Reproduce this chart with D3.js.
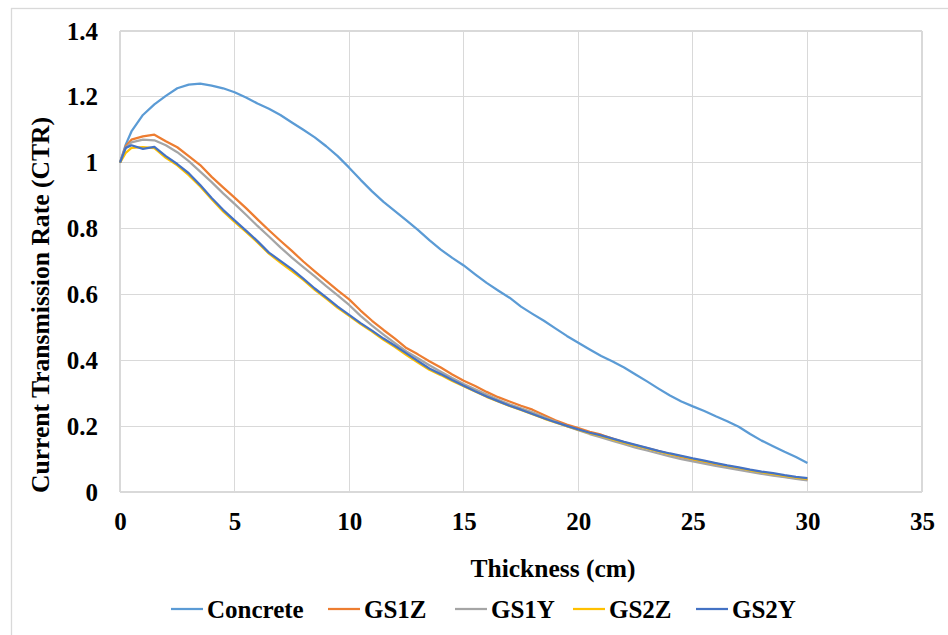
<!DOCTYPE html>
<html>
<head>
<meta charset="utf-8">
<script src="https://cdn.jsdelivr.net/npm/d3@7"></script>
<style>
  html, body { margin: 0; padding: 0; background: #fff; }
</style>
</head>
<body>
<svg id="chart" width="948" height="635"></svg>
<script>
// Thickness (cm) sample positions shared by all series
const thickness = [0, 0.25, 0.5, 1, 1.5, 2, 2.5, 3, 3.5, 4, 4.5, 5, 5.5, 6, 6.5, 7, 7.5, 8, 8.5, 9, 9.5,
  10, 10.5, 11, 11.5, 12, 12.5, 13, 13.5, 14, 14.5, 15, 15.5, 16, 16.5, 17, 17.5, 18, 18.5, 19, 19.5,
  20, 20.5, 21, 21.5, 22, 22.5, 23, 23.5, 24, 24.5, 25, 25.5, 26, 26.5, 27, 27.5, 28, 28.5, 29, 29.5, 30];

const concrete = [1.000, 1.055, 1.095, 1.145, 1.177, 1.203, 1.226, 1.237, 1.240, 1.234, 1.226, 1.214, 1.198, 1.180, 1.164, 1.145, 1.122, 1.100, 1.077, 1.050, 1.020,
  0.985, 0.948, 0.913, 0.881, 0.853, 0.825, 0.796, 0.765, 0.736, 0.711, 0.688, 0.661, 0.635, 0.612, 0.590, 0.563, 0.541, 0.520, 0.497, 0.474,
  0.453, 0.433, 0.413, 0.396, 0.378, 0.357, 0.336, 0.314, 0.293, 0.275, 0.260, 0.246, 0.230, 0.215, 0.198, 0.176, 0.156, 0.139, 0.122, 0.106, 0.088];

const gs1z = [1.000, 1.050, 1.070, 1.080, 1.085, 1.065, 1.047, 1.020, 0.993, 0.957, 0.925, 0.894, 0.862, 0.828, 0.795, 0.763, 0.732, 0.700, 0.670, 0.641, 0.612,
  0.585, 0.551, 0.520, 0.492, 0.466, 0.437, 0.418, 0.397, 0.378, 0.357, 0.338, 0.322, 0.304, 0.288, 0.275, 0.262, 0.250, 0.234, 0.218, 0.205,
  0.194, 0.183, 0.174, 0.162, 0.151, 0.142, 0.133, 0.124, 0.115, 0.106, 0.098, 0.091, 0.084, 0.077, 0.071, 0.065, 0.059, 0.053, 0.047, 0.042, 0.037];

const gs1y = [1.000, 1.045, 1.062, 1.070, 1.068, 1.053, 1.032, 1.005, 0.973, 0.941, 0.907, 0.875, 0.842, 0.808, 0.776, 0.743, 0.712, 0.683, 0.655, 0.625, 0.597,
  0.568, 0.535, 0.505, 0.478, 0.452, 0.427, 0.406, 0.385, 0.365, 0.346, 0.328, 0.312, 0.296, 0.280, 0.266, 0.254, 0.242, 0.228, 0.214, 0.200,
  0.188, 0.176, 0.166, 0.155, 0.145, 0.135, 0.126, 0.117, 0.108, 0.100, 0.093, 0.086, 0.079, 0.073, 0.067, 0.061, 0.055, 0.050, 0.045, 0.040, 0.035];

const gs2z = [1.000, 1.030, 1.045, 1.047, 1.044, 1.015, 0.992, 0.962, 0.928, 0.889, 0.852, 0.820, 0.790, 0.758, 0.724, 0.697, 0.671, 0.644, 0.614, 0.587, 0.559,
  0.535, 0.510, 0.487, 0.462, 0.440, 0.416, 0.393, 0.371, 0.355, 0.337, 0.321, 0.305, 0.289, 0.275, 0.261, 0.249, 0.236, 0.223, 0.211, 0.200,
  0.189, 0.179, 0.170, 0.160, 0.150, 0.141, 0.132, 0.123, 0.115, 0.108, 0.100, 0.093, 0.086, 0.079, 0.073, 0.066, 0.060, 0.055, 0.049, 0.044, 0.040];

const gs2y = [1.000, 1.045, 1.053, 1.042, 1.048, 1.020, 0.996, 0.968, 0.932, 0.893, 0.857, 0.825, 0.794, 0.762, 0.727, 0.702, 0.677, 0.648, 0.618, 0.591, 0.563,
  0.538, 0.513, 0.490, 0.466, 0.444, 0.421, 0.398, 0.375, 0.358, 0.340, 0.323, 0.306, 0.290, 0.276, 0.262, 0.250, 0.237, 0.224, 0.212, 0.201,
  0.190, 0.180, 0.172, 0.162, 0.152, 0.143, 0.134, 0.125, 0.117, 0.110, 0.102, 0.095, 0.088, 0.081, 0.075, 0.068, 0.062, 0.057, 0.051, 0.046, 0.042];

const seriesNames = ["Concrete", "GS1Z", "GS1Y", "GS2Z", "GS2Y"];
const seriesValues = [concrete, gs1z, gs1y, gs2z, gs2y];
const seriesColors = ["#5B9BD5", "#ED7D31", "#A5A5A5", "#FFC000", "#4472C4"];

const xTicks = [0, 5, 10, 15, 20, 25, 30, 35];
const yTicks = [0, 0.2, 0.4, 0.6, 0.8, 1, 1.2, 1.4];

const xTitle = "Thickness (cm)";
const yTitle = "Current Transmission Rate (CTR)";

// pick the first installed Times-like serif face
const probe = document.createElement("canvas").getContext("2d");
function installed(name) {
  const s = "abcdefghijklmnopqrstuvwxyz ABCDEFGHIJKLMNOPQRSTUVWXYZ 0123456789";
  probe.font = "bold 40px monospace";
  const a = probe.measureText(s).width;
  probe.font = `bold 40px "${name}", monospace`;
  return probe.measureText(s).width !== a;
}
const serifCandidates = ["Liberation Serif", "Tinos", "Times New Roman", "Times", "Nimbus Roman", "Noto Serif", "DejaVu Serif"];
const serifFace = serifCandidates.find(installed) || "serif";
const FONT = `"${serifFace}", serif`;
const FS = 25;

function styleText(sel) {
  return sel.attr("font-family", FONT).attr("font-weight", "bold").attr("font-size", FS).attr("fill", "#000");
}

const svg = d3.select("#chart");
const plot = { left: 120, right: 922, top: 31, bottom: 492 };

const x = d3.scaleLinear().domain([0, 35]).range([plot.left, plot.right]);
const y = d3.scaleLinear().domain([0, 1.4]).range([plot.bottom, plot.top]);

// chart frame
svg.append("rect")
  .attr("x", 11.5).attr("y", 8.5)
  .attr("width", 1000).attr("height", 700)
  .attr("fill", "#fff").attr("stroke", "#D9D9D9").attr("stroke-width", 1.3);

// grid lines
const grid = svg.append("g").attr("stroke", "#D9D9D9").attr("stroke-width", 1.2).attr("shape-rendering", "crispEdges");
grid.selectAll("line.h").data(yTicks).join("line")
  .attr("x1", plot.left).attr("x2", plot.right)
  .attr("y1", d => y(d)).attr("y2", d => y(d));
grid.selectAll("line.v").data(xTicks).join("line")
  .attr("y1", plot.top).attr("y2", plot.bottom)
  .attr("x1", d => x(d)).attr("x2", d => x(d));

// axes (labels only, lines come from the grid)
const xAxis = svg.append("g")
  .attr("transform", `translate(0,${plot.bottom})`)
  .call(d3.axisBottom(x).tickValues(xTicks).tickSize(0).tickPadding(20).tickFormat(d3.format("d")));
xAxis.select(".domain").remove();
styleText(xAxis.selectAll("text").attr("dy", "0.71em"));

const yAxis = svg.append("g")
  .attr("transform", `translate(${plot.left},0)`)
  .call(d3.axisLeft(y).tickValues(yTicks).tickSize(0).tickPadding(22).tickFormat(d => String(+d.toFixed(1))));
yAxis.select(".domain").remove();
styleText(yAxis.selectAll("text"));

// series lines
const line = d3.line().x(d => x(d[0])).y(d => y(d[1]));
svg.append("g").selectAll("path")
  .data(seriesValues.map((vals, i) => ({ name: seriesNames[i], color: seriesColors[i], pts: thickness.map((t, j) => [t, vals[j]]) })))
  .join("path")
  .attr("fill", "none")
  .attr("stroke", d => d.color)
  .attr("stroke-width", 2.25)
  .attr("stroke-linejoin", "round")
  .attr("d", d => line(d.pts));

// axis titles
styleText(svg.append("text")
  .attr("x", 553).attr("y", 577)
  .attr("text-anchor", "middle")
  .attr("textLength", 165).attr("lengthAdjust", "spacingAndGlyphs")
  .text(xTitle));

styleText(svg.append("text")
  .attr("transform", "translate(49,305) rotate(-90)")
  .attr("text-anchor", "middle")
  .attr("textLength", 376).attr("lengthAdjust", "spacingAndGlyphs")
  .text(yTitle));

// legend: swatch line followed by the series name
const legendX = [171, 328, 455, 573, 696];
const legend = svg.append("g").attr("transform", "translate(0,609)");
const items = legend.selectAll("g").data(seriesNames).join("g")
  .attr("transform", (d, i) => `translate(${legendX[i]},0)`);
items.append("line")
  .attr("x1", 0).attr("x2", 32).attr("y1", 0).attr("y2", 0)
  .attr("stroke", (d, i) => seriesColors[i]).attr("stroke-width", 2.25);
styleText(items.append("text")
  .attr("x", 36).attr("y", 8.5)
  .text(d => d));
</script>
</body>
</html>
